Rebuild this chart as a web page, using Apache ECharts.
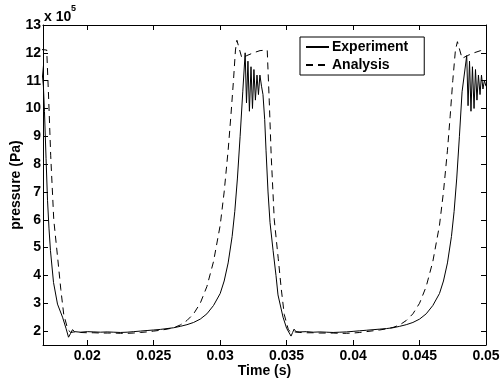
<!DOCTYPE html>
<html><head><meta charset="utf-8">
<script src="https://cdn.jsdelivr.net/npm/echarts@6/dist/echarts.min.js"></script>
<style>html,body{margin:0;padding:0;background:#fff}#c{width:501px;height:385px}</style>
</head><body><div id="c"></div>
<script>
const xTicks = [0.02, 0.025, 0.03, 0.035, 0.04, 0.045, 0.05];
const yTicks = [2, 3, 4, 5, 6, 7, 8, 9, 10, 11, 12, 13];
const seriesNames = ['Experiment', 'Analysis'];
// time (s), pressure (x 10^5 Pa)
const experiment = [
  [0.01655,11.6],[0.01670,10.8],[0.01678,9.9],[0.01690,8.2],[0.01701,6.7],[0.01712,5.7],[0.01723,4.9],
  [0.01746,3.75],[0.01776,2.97],[0.01814,2.5],[0.01840,2.1],[0.01859,1.78],[0.01875,1.92],[0.01889,2.05],
  [0.01905,1.98],[0.0195,1.96],[0.0200,1.98],[0.0205,1.97],[0.0210,1.96],[0.0215,1.97],[0.0220,1.96],
  [0.0225,1.95],[0.0230,1.96],[0.0235,1.98],[0.0240,2.0],[0.0245,2.02],[0.0250,2.04],[0.0255,2.06],
  [0.0260,2.09],[0.0265,2.12],[0.0270,2.17],[0.0275,2.23],[0.0280,2.31],[0.0285,2.43],[0.0290,2.62],
  [0.0295,2.92],[0.0300,3.35],[0.0303,3.8],[0.0306,4.45],[0.0309,5.4],[0.0311,6.3],[0.0313,7.5],
  [0.0315,9.0],[0.0317,10.6],[0.03188,12.0],[0.03198,10.2],[0.03209,11.7],[0.03220,9.9],[0.03232,11.5],
  [0.03243,10.0],[0.03254,11.4],[0.03265,10.3],[0.03277,11.2],[0.03288,10.5],[0.03299,11.2],[0.03311,10.8],
  [0.03322,10.5],[0.03335,9.6],[0.03345,8.5],[0.03360,7.0],[0.03375,5.9],[0.03398,4.9],[0.03420,4.0],
  [0.03435,3.3],[0.03473,2.5],[0.03500,2.1],[0.03533,1.82],[0.03545,1.95],[0.03556,2.07],[0.03570,1.98],
  [0.0360,1.97],[0.0365,1.98],[0.0370,1.96],[0.0375,1.97],[0.0380,1.96],[0.0385,1.95],[0.0390,1.96],
  [0.0395,1.97],[0.0400,1.99],[0.0405,2.01],[0.0410,2.03],[0.0415,2.05],[0.0420,2.07],[0.0425,2.09],
  [0.0430,2.12],[0.0435,2.17],[0.0440,2.23],[0.0445,2.31],[0.0450,2.43],[0.0455,2.62],[0.0460,2.92],
  [0.0465,3.35],[0.0468,3.8],[0.0471,4.45],[0.0474,5.4],[0.0476,6.3],[0.0478,7.5],[0.0480,9.0],
  [0.0482,10.6],[0.04855,11.9],[0.04865,10.1],[0.04876,11.7],[0.04887,9.9],[0.04898,11.5],[0.04910,10.0],
  [0.04921,11.4],[0.04932,10.3],[0.04943,11.2],[0.04955,10.5],[0.04966,11.2],[0.04977,10.7],[0.04988,11.0],
  [0.0500,10.8]
];
const analysis = [
  [0.0165,12.12],[0.01695,12.1],[0.01710,10.3],[0.01725,8.3],[0.01748,6.0],[0.01778,4.6],[0.01801,3.5],
  [0.01823,2.6],[0.01854,2.05],[0.01876,1.95],[0.0190,1.97],[0.0195,1.95],[0.0200,1.94],[0.0205,1.94],
  [0.0210,1.93],[0.0215,1.93],[0.0220,1.93],[0.0225,1.92],[0.0230,1.92],[0.0235,1.93],[0.0240,1.95],
  [0.0245,1.97],[0.0250,2.0],[0.0255,2.03],[0.0260,2.07],[0.0265,2.12],[0.0270,2.22],[0.0275,2.38],
  [0.0280,2.62],[0.0285,3.0],[0.0290,3.6],[0.0295,4.5],[0.0300,5.8],[0.0303,7.0],[0.0306,8.5],
  [0.0308,9.7],[0.0310,11.0],[0.03115,12.1],[0.03126,12.45],[0.03164,11.8],[0.0320,11.9],[0.0325,12.0],
  [0.0330,12.08],[0.03354,12.1],[0.03369,10.3],[0.03384,8.3],[0.03407,6.0],[0.03437,4.6],[0.03460,3.5],
  [0.03482,2.6],[0.03513,2.05],[0.03535,1.95],[0.0356,1.97],[0.0360,1.95],[0.0365,1.94],[0.0370,1.94],
  [0.0375,1.93],[0.0380,1.93],[0.0385,1.93],[0.0390,1.92],[0.0395,1.92],[0.0400,1.93],[0.0405,1.95],
  [0.0410,1.98],[0.0415,2.01],[0.0420,2.04],[0.0425,2.08],[0.0430,2.13],[0.0435,2.22],[0.0440,2.38],
  [0.0445,2.62],[0.0450,3.0],[0.0455,3.6],[0.0460,4.5],[0.0465,5.8],[0.0468,7.0],[0.0471,8.5],
  [0.0473,9.7],[0.0475,11.0],[0.0477,12.1],[0.04785,12.4],[0.0482,11.8],[0.0486,11.9],[0.0491,12.0],
  [0.0496,12.08],[0.0500,12.1]
];

const FONT = '"Liberation Sans", Arial, Helvetica, sans-serif';
const chart = echarts.init(document.getElementById('c'), null, {renderer: 'canvas'});
const tickStyle = {show: true, inside: true, length: 5, lineStyle: {color: '#000', width: 1}};
const lineAx = {show: true, onZero: false, lineStyle: {color: '#000', width: 1}};
const xBase = {type: 'value', min: 0.01667, max: 0.05, splitLine: {show: false}, axisLine: lineAx};
const yBase = {type: 'value', min: 1.5, max: 13, splitLine: {show: false}, axisLine: lineAx};

chart.setOption({
  animation: false,
  backgroundColor: '#fff',
  grid: {left: 43, right: 15, top: 25, bottom: 40, containLabel: false, outerBoundsMode: 'none'},
  legend: {
    orient: 'vertical', left: 300, top: 37,
    padding: [3, 16, 3, 5], itemGap: 4, itemWidth: 23, itemHeight: 14,
    borderColor: '#000', borderWidth: 1, backgroundColor: '#fff',
    itemStyle: {opacity: 0},
    textStyle: {fontFamily: FONT, fontWeight: 'bold', fontSize: 14, color: '#000', padding: [0,0,0,-2]},
    data: seriesNames
  },
  xAxis: [
    Object.assign({}, xBase, {
      position: 'bottom',
      name: 'Time (s)', nameLocation: 'middle', nameGap: 19, nameMoveOverlap: false,
      nameTextStyle: {fontFamily: FONT, fontWeight: 'bold', fontSize: 14, color: '#000'},
      axisTick: Object.assign({customValues: xTicks}, tickStyle),
      axisLabel: {customValues: xTicks, margin: 4, fontFamily: FONT, fontWeight: 'bold', fontSize: 14, color: '#000',
        formatter: v => String(+(+v).toFixed(3))}
    }),
    Object.assign({}, xBase, {
      position: 'top',
      axisTick: Object.assign({customValues: xTicks}, tickStyle),
      axisLabel: {show: false}
    })
  ],
  yAxis: [
    Object.assign({}, yBase, {
      position: 'left',
      name: 'pressure (Pa)', nameLocation: 'middle', nameGap: 20, nameRotate: 90, nameMoveOverlap: false,
      nameTextStyle: {fontFamily: FONT, fontWeight: 'bold', fontSize: 14, color: '#000'},
      axisTick: Object.assign({customValues: yTicks}, tickStyle),
      axisLabel: {customValues: yTicks, margin: 2, fontFamily: FONT, fontWeight: 'bold', fontSize: 14, color: '#000'}
    }),
    Object.assign({}, yBase, {
      position: 'right',
      axisTick: Object.assign({customValues: yTicks}, tickStyle),
      axisLabel: {show: false}
    })
  ],
  graphic: [
    {type: 'text', left: 44, top: 10, style: {text: 'x 10', font: 'bold 14px ' + FONT, fill: '#000'}},
    {type: 'text', left: 71, top: 4, style: {text: '5', font: 'bold 9px ' + FONT, fill: '#000'}}
  ],
  series: [
    {name: seriesNames[0], type: 'line', data: experiment, showSymbol: false, symbol: 'none',
      lineStyle: {color: '#000', width: 1, type: 'solid'}, itemStyle: {color: '#000'}, clip: true},
    {name: seriesNames[1], type: 'line', data: analysis, showSymbol: false, symbol: 'none',
      lineStyle: {color: '#000', width: 1, type: [7, 5]}, itemStyle: {color: '#000'}, clip: true}
  ]
});
</script>
</body></html>
